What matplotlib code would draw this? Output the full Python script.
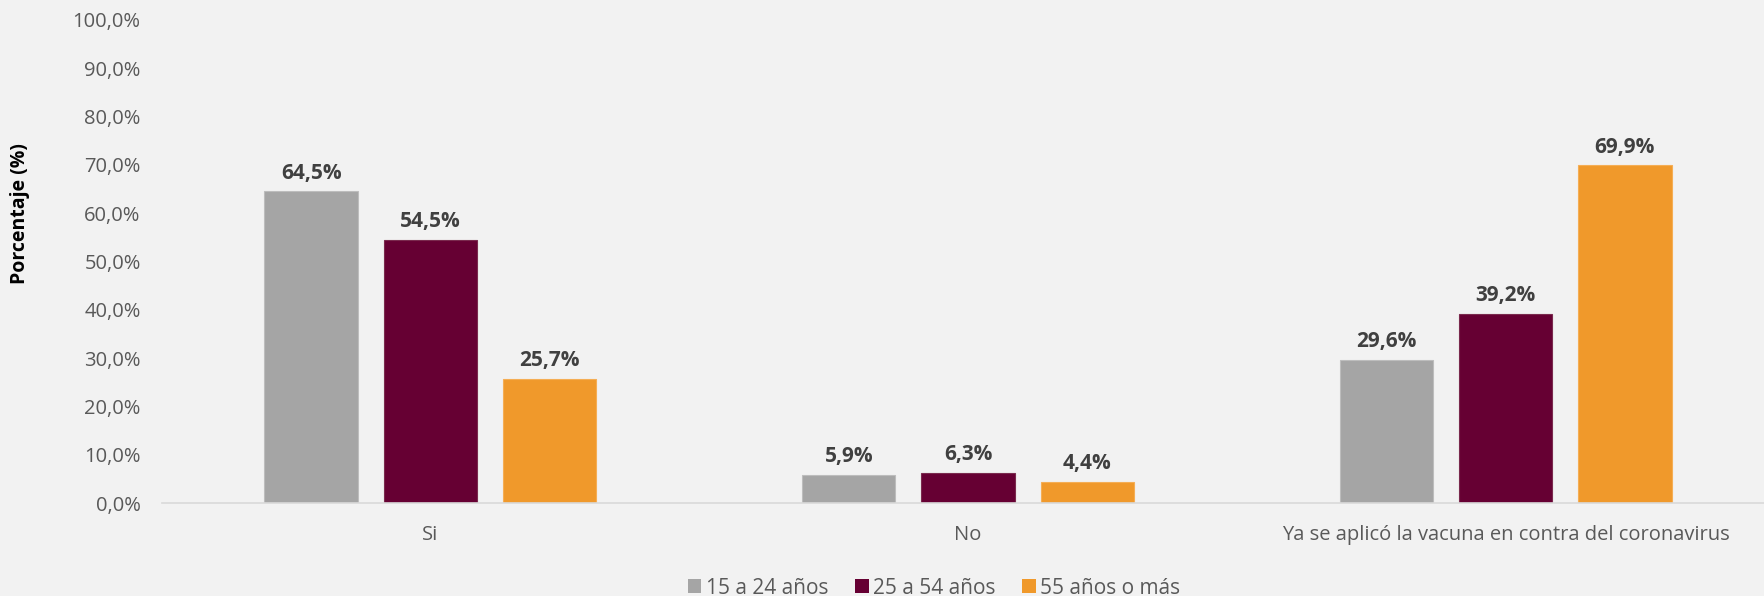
import matplotlib
matplotlib.use("Agg")
import matplotlib.pyplot as plt
import numpy as np

categories = ["Si", "No", "Ya se aplicó la vacuna en contra del coronavirus"]
series_names = ["15 a 24 años", "25 a 54 años", "55 años o más"]
v_15_24 = [64.5, 5.9, 29.6]
v_25_54 = [54.5, 6.3, 39.2]
v_55 = [25.7, 4.4, 69.9]
yticks = [0, 10, 20, 30, 40, 50, 60, 70, 80, 90, 100]

colors = ["#A5A5A5", "#660033", "#F0992B"]
edges = ["#BDBDBD", "#7A2A4E", "#F5AE55"]
bg = "#F2F2F2"

plt.rcParams['font.family'] = ['Open Sans', 'DejaVu Sans']

fig = plt.figure(figsize=(17.64, 5.96), dpi=100, facecolor=bg)
ax = fig.add_axes([161.5/1764, 93/596, 1613/1764, (503-20)/596])
ax.set_facecolor(bg)

x = np.arange(len(categories))
w = 0.1737
step = 0.2217
for i, (vals, name) in enumerate(zip([v_15_24, v_25_54, v_55], series_names)):
    pos = x + (i - 1) * step
    bars = ax.bar(pos, vals, width=w, color=colors[i], edgecolor=edges[i], linewidth=0.8, label=name)
    for b, v in zip(bars, vals):
        ax.annotate(f"{v:.1f}%".replace(".", ","), (b.get_x() + b.get_width()/2, v),
                    xytext=(0, 5.5), textcoords="offset points", ha="center", va="bottom",
                    fontsize=15, fontweight="bold", color="#404040")

ax.set_xlim(-0.5, 2.5)
ax.set_ylim(0, 100)
ax.set_yticks(yticks)
ax.set_yticklabels([f"{t:.1f}%".replace(".", ",") for t in yticks], fontsize=14.5, color="#595959")
ax.set_xticks(x)
ax.set_xticklabels(categories, fontsize=14.5, color="#595959")
ax.tick_params(axis="both", length=0)
ax.tick_params(axis="x", pad=16)
ax.tick_params(axis="y", pad=15)
for s in ["top", "right", "left"]:
    ax.spines[s].set_visible(False)
ax.spines["bottom"].set_color("#D9D9D9")
ax.spines["bottom"].set_linewidth(1.2)

fig.text(20/1764, 1 - 214/596, "Porcentaje (%)", rotation=90, ha="center", va="center",
         fontsize=14, fontweight="bold", color="black")

leg = fig.legend(loc="center", bbox_to_anchor=(934/1764, 8/596), ncol=3, frameon=False,
                 fontsize=15, handlelength=0.65, handleheight=0.65, handletextpad=0.2,
                 columnspacing=1.3, labelcolor="#595959")
for h in leg.legend_handles:
    h.set_edgecolor("none")

fig.savefig("out.png", dpi=100, facecolor=bg)
